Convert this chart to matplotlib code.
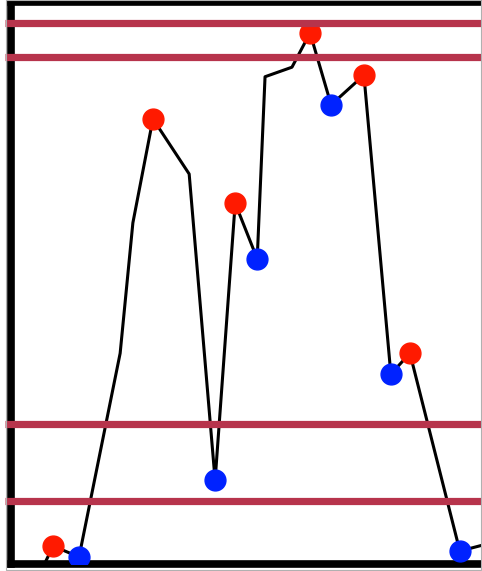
import matplotlib
matplotlib.use("Agg")
import matplotlib.pyplot as plt
from matplotlib.patches import Rectangle

# serie principal
x_vals = [4.4, 8.7, 14.0, 22.4, 25.0, 29.1, 36.5, 41.8, 45.9, 50.4, 52.0,
          57.5, 61.2, 65.5, 72.2, 77.7, 81.6, 91.8, 101.0]
y_vals = [-4.6, 3.2, 1.25, 37.5, 60.7, 79.2, 69.4, 14.9, 64.2, 54.3, 86.7,
          88.4, 94.5, 81.7, 87.0, 33.8, 37.5, 2.3, 4.4]

# picos (vermelho) e vales (azul)
peak_x = [8.7, 29.1, 45.9, 61.2, 72.2, 81.6]
peak_y = [3.2, 79.2, 64.2, 94.5, 87.0, 37.5]
trough_x = [14.0, 41.8, 50.4, 65.5, 77.7, 91.8]
trough_y = [1.25, 14.9, 54.3, 81.7, 33.8, 2.3]

# niveis horizontais
levels = [96.2, 90.2, 25.0, 11.2]

fig = plt.figure(figsize=(4.82, 5.71), dpi=100)
ax = fig.add_axes([10.5 / 482, 7 / 571, 489.5 / 482, 562 / 571])

ax.plot(x_vals, y_vals, color='black', linewidth=2.2, zorder=2)
ax.plot(peak_x, peak_y, 'o', color='#ff1a00', markersize=15, zorder=3)
ax.plot(trough_x, trough_y, 'o', color='#0022ff', markersize=15, zorder=3)
ax.hlines(levels, -1.1, 105, colors='#b7344c', linewidth=5.2, zorder=5, clip_on=False)

ax.set_xlim(0, 100)
ax.set_ylim(0, 100)
ax.set_xticks([])
ax.set_yticks([])
for side in ['left', 'top', 'bottom']:
    ax.spines[side].set_linewidth(5.5)
    ax.spines[side].set_color('black')
ax.spines['right'].set_visible(False)

# borda cinza fina da imagem
fig.patches.append(Rectangle((5.5 / 482, 1.5 / 571), 475.5 / 482, 570 / 571,
                             transform=fig.transFigure, fill=False,
                             edgecolor='#b0b0b0', linewidth=0.8, zorder=10))

plt.savefig('out.png', dpi=100, facecolor='white')
